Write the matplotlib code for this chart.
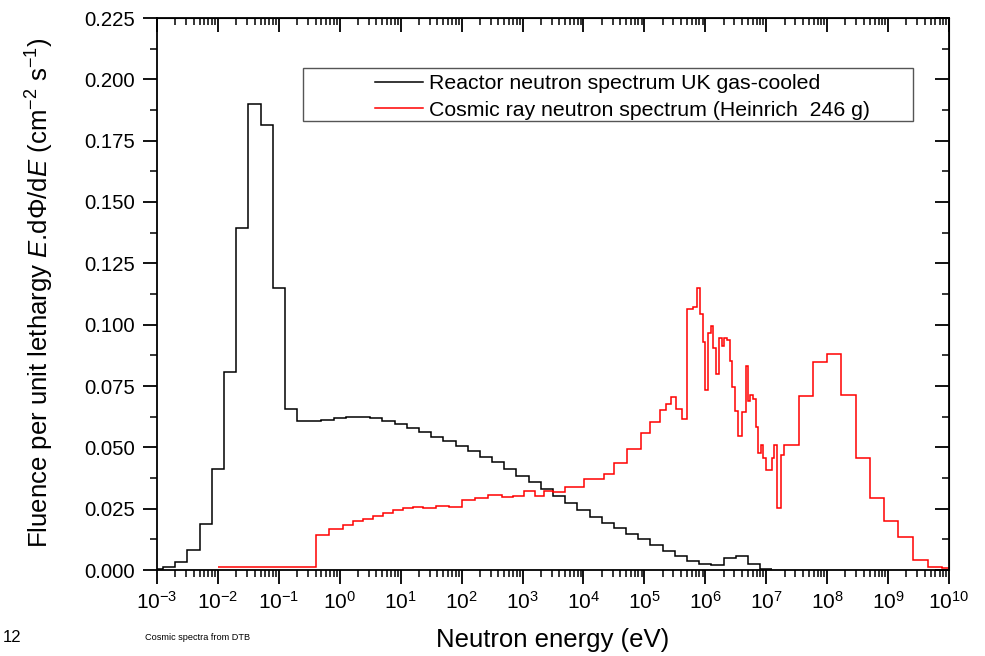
import matplotlib
matplotlib.use('Agg')
import matplotlib.pyplot as plt
import matplotlib.ticker as ticker
from matplotlib.patches import Rectangle
import numpy as np

plt.rcParams['font.family'] = ['Liberation Sans', 'DejaVu Sans']
plt.rcParams['mathtext.fontset'] = 'custom'
plt.rcParams['mathtext.rm'] = 'Liberation Sans'
plt.rcParams['mathtext.it'] = 'Liberation Sans:italic'
plt.rcParams['mathtext.bf'] = 'Liberation Sans:bold'
plt.rcParams['mathtext.sf'] = 'Liberation Sans'

############################### Data ###############################

# reactor spectrum (UK gas-cooled), bin edges as log10(E / eV)
reactor_log_edges = [-3.0, -2.9, -2.7, -2.5, -2.3, -2.1, -1.9, -1.7, -1.5, -1.3,
                     -1.1, -0.9, -0.7, -0.5, -0.3, -0.1, 0.1, 0.3, 0.5, 0.7,
                     0.9, 1.1, 1.3, 1.5, 1.7, 1.9, 2.1, 2.3, 2.5, 2.7,
                     2.9, 3.1, 3.3, 3.5, 3.7, 3.9, 4.1, 4.3, 4.5, 4.7,
                     4.9, 5.1, 5.3, 5.5, 5.7, 5.9, 6.1, 6.3, 6.5, 6.7,
                     6.9, 7.1]
reactor_values = [0.0005, 0.0011, 0.0032, 0.0081, 0.0188, 0.0411, 0.0809, 0.1394, 0.1900, 0.1812,
                  0.1149, 0.0658, 0.0608, 0.0609, 0.0613, 0.0620, 0.0624, 0.0624, 0.0619, 0.0609,
                  0.0594, 0.0578, 0.0562, 0.0543, 0.0527, 0.0506, 0.0484, 0.0462, 0.0439, 0.0412,
                  0.0385, 0.0358, 0.0329, 0.0302, 0.0272, 0.0246, 0.0217, 0.0193, 0.0170, 0.0147,
                  0.0126, 0.0102, 0.0078, 0.0057, 0.0037, 0.0023, 0.0020, 0.0047, 0.0058, 0.0024,
                  0.0005]

# cosmic ray spectrum (Heinrich 246 g), bin edges as log10(E / eV)
cosmic_log_edges = [-2.0, -0.39, -0.17, 0.05, 0.21, 0.38, 0.54, 0.71, 0.87, 1.03,
                    1.20, 1.36, 1.58, 1.80, 2.00, 2.22, 2.44, 2.66, 2.84, 3.03,
                    3.21, 3.36, 3.50, 3.69, 4.01, 4.34, 4.50, 4.72, 4.94, 5.09,
                    5.26, 5.36, 5.44, 5.52, 5.62, 5.70, 5.79, 5.87, 5.92, 5.96,
                    6.00, 6.05, 6.10, 6.13, 6.18, 6.22, 6.27, 6.31, 6.35, 6.40,
                    6.44, 6.49, 6.53, 6.61, 6.66, 6.70, 6.74, 6.79, 6.83, 6.87,
                    6.91, 6.95, 7.00, 7.09, 7.13, 7.17, 7.25, 7.29, 7.53, 7.77,
                    8.00, 8.23, 8.47, 8.71, 8.94, 9.17, 9.41, 9.65, 9.89, 10.0]
cosmic_values = [0.0011, 0.0143, 0.0169, 0.0185, 0.0199, 0.0209, 0.0220, 0.0231, 0.0245, 0.0254,
                 0.0258, 0.0251, 0.0259, 0.0255, 0.0285, 0.0293, 0.0305, 0.0296, 0.0300, 0.0320,
                 0.0300, 0.0321, 0.0317, 0.0339, 0.0370, 0.0390, 0.0437, 0.0492, 0.0558, 0.0605,
                 0.0652, 0.0677, 0.0706, 0.0656, 0.0616, 0.1063, 0.1074, 0.1149, 0.1044, 0.0930,
                 0.0732, 0.0966, 0.0993, 0.0904, 0.0799, 0.0945, 0.0913, 0.0945, 0.0938, 0.0853,
                 0.0744, 0.0648, 0.0548, 0.0643, 0.0833, 0.0690, 0.0714, 0.0697, 0.0581, 0.0476,
                 0.0510, 0.0458, 0.0408, 0.0458, 0.0508, 0.0254, 0.0469, 0.0510, 0.0710, 0.0848,
                 0.0882, 0.0714, 0.0455, 0.0292, 0.0201, 0.0136, 0.0041, 0.0013, 0.0007]

reactor_label = 'Reactor neutron spectrum UK gas-cooled'
cosmic_label = 'Cosmic ray neutron spectrum (Heinrich  246 g)'

x_min, x_max = 1e-3, 1e10
y_min, y_max = 0.0, 0.225

############################### Plot ###############################

fig = plt.figure(figsize=(9.85, 6.56), dpi=100)
ax = fig.add_axes([157 / 985, 86 / 656, 792 / 985, 552 / 656])
ax.set_xscale('log')
ax.set_xlim(x_min, x_max)
ax.set_ylim(y_min, y_max)

reactor_edges = 10 ** np.array(reactor_log_edges)
cosmic_edges = 10 ** np.array(cosmic_log_edges)

ax.stairs(reactor_values, reactor_edges, baseline=None, color='black', linewidth=1.1,
          label=reactor_label)
ax.stairs(cosmic_values, cosmic_edges, baseline=None, color='#ff0000', linewidth=1.1,
          label=cosmic_label)

# axes frame and ticks
for s in ax.spines.values():
    s.set_linewidth(1.3)

ax.xaxis.set_major_locator(ticker.LogLocator(base=10, numticks=30))
ax.xaxis.set_minor_locator(ticker.LogLocator(base=10, subs=np.arange(2, 10), numticks=30))
ax.xaxis.set_minor_formatter(ticker.NullFormatter())
ax.yaxis.set_major_locator(ticker.MultipleLocator(0.025))
ax.yaxis.set_minor_locator(ticker.MultipleLocator(0.0125))
ax.yaxis.set_major_formatter(ticker.FormatStrFormatter('%.3f'))

ax.tick_params(axis='x', which='major', direction='out', length=10, width=1.3, labelsize=15, pad=5)
ax.tick_params(axis='x', which='minor', direction='out', length=5, width=1.1)
ax.tick_params(axis='y', which='major', direction='out', length=10, width=1.3, labelsize=14.7, pad=6)
ax.tick_params(axis='y', which='minor', direction='out', length=5, width=1.1)

# inward ticks on top and right
top = ax.secondary_xaxis('top')
top.xaxis.set_major_locator(ticker.LogLocator(base=10, numticks=30))
top.xaxis.set_minor_locator(ticker.LogLocator(base=10, subs=np.arange(2, 10), numticks=30))
top.tick_params(which='major', direction='in', length=10, width=1.3, labeltop=False)
top.tick_params(which='minor', direction='in', length=5, width=1.1)

right = ax.secondary_yaxis('right')
right.yaxis.set_major_locator(ticker.MultipleLocator(0.025))
right.yaxis.set_minor_locator(ticker.MultipleLocator(0.0125))
right.tick_params(which='major', direction='in', length=10, width=1.3, labelright=False)
right.tick_params(which='minor', direction='in', length=5, width=1.1)

# axis labels
ax.set_xlabel('Neutron energy (eV)', fontsize=18.5, va='center')
ax.xaxis.set_label_coords(0.5, -0.1277)
ax.set_ylabel(r'Fluence per unit lethargy $\mathit{E}$.d$\mathit{\Phi}$/d$\mathit{E}$ (cm$^{-2}$ s$^{-1}$)',
              fontsize=18.5, va='center', ha='center')
ax.yaxis.set_label_coords(-0.1477, 0.503)

# legend: box drawn separately, entries placed inside it
ax.add_patch(Rectangle((0.1843, 0.8134), 0.7702, 0.0960, transform=ax.transAxes,
                       fill=False, edgecolor='#555555', linewidth=1.0, zorder=5))
ax.legend(loc='upper left', bbox_to_anchor=(0.2753, 0.898), frameon=False, fontsize=15.3,
          borderpad=0, borderaxespad=0, handlelength=2.26, handletextpad=0.28, labelspacing=0.35)

# slide footer texts
fig.text(3 / 985, 1 - 637 / 656, '12', fontsize=12, va='center', ha='left')
fig.text(145 / 985, 1 - 637 / 656, 'Cosmic spectra from DTB', fontsize=6.6, va='center', ha='left')

fig.savefig('out.png', dpi=100)
